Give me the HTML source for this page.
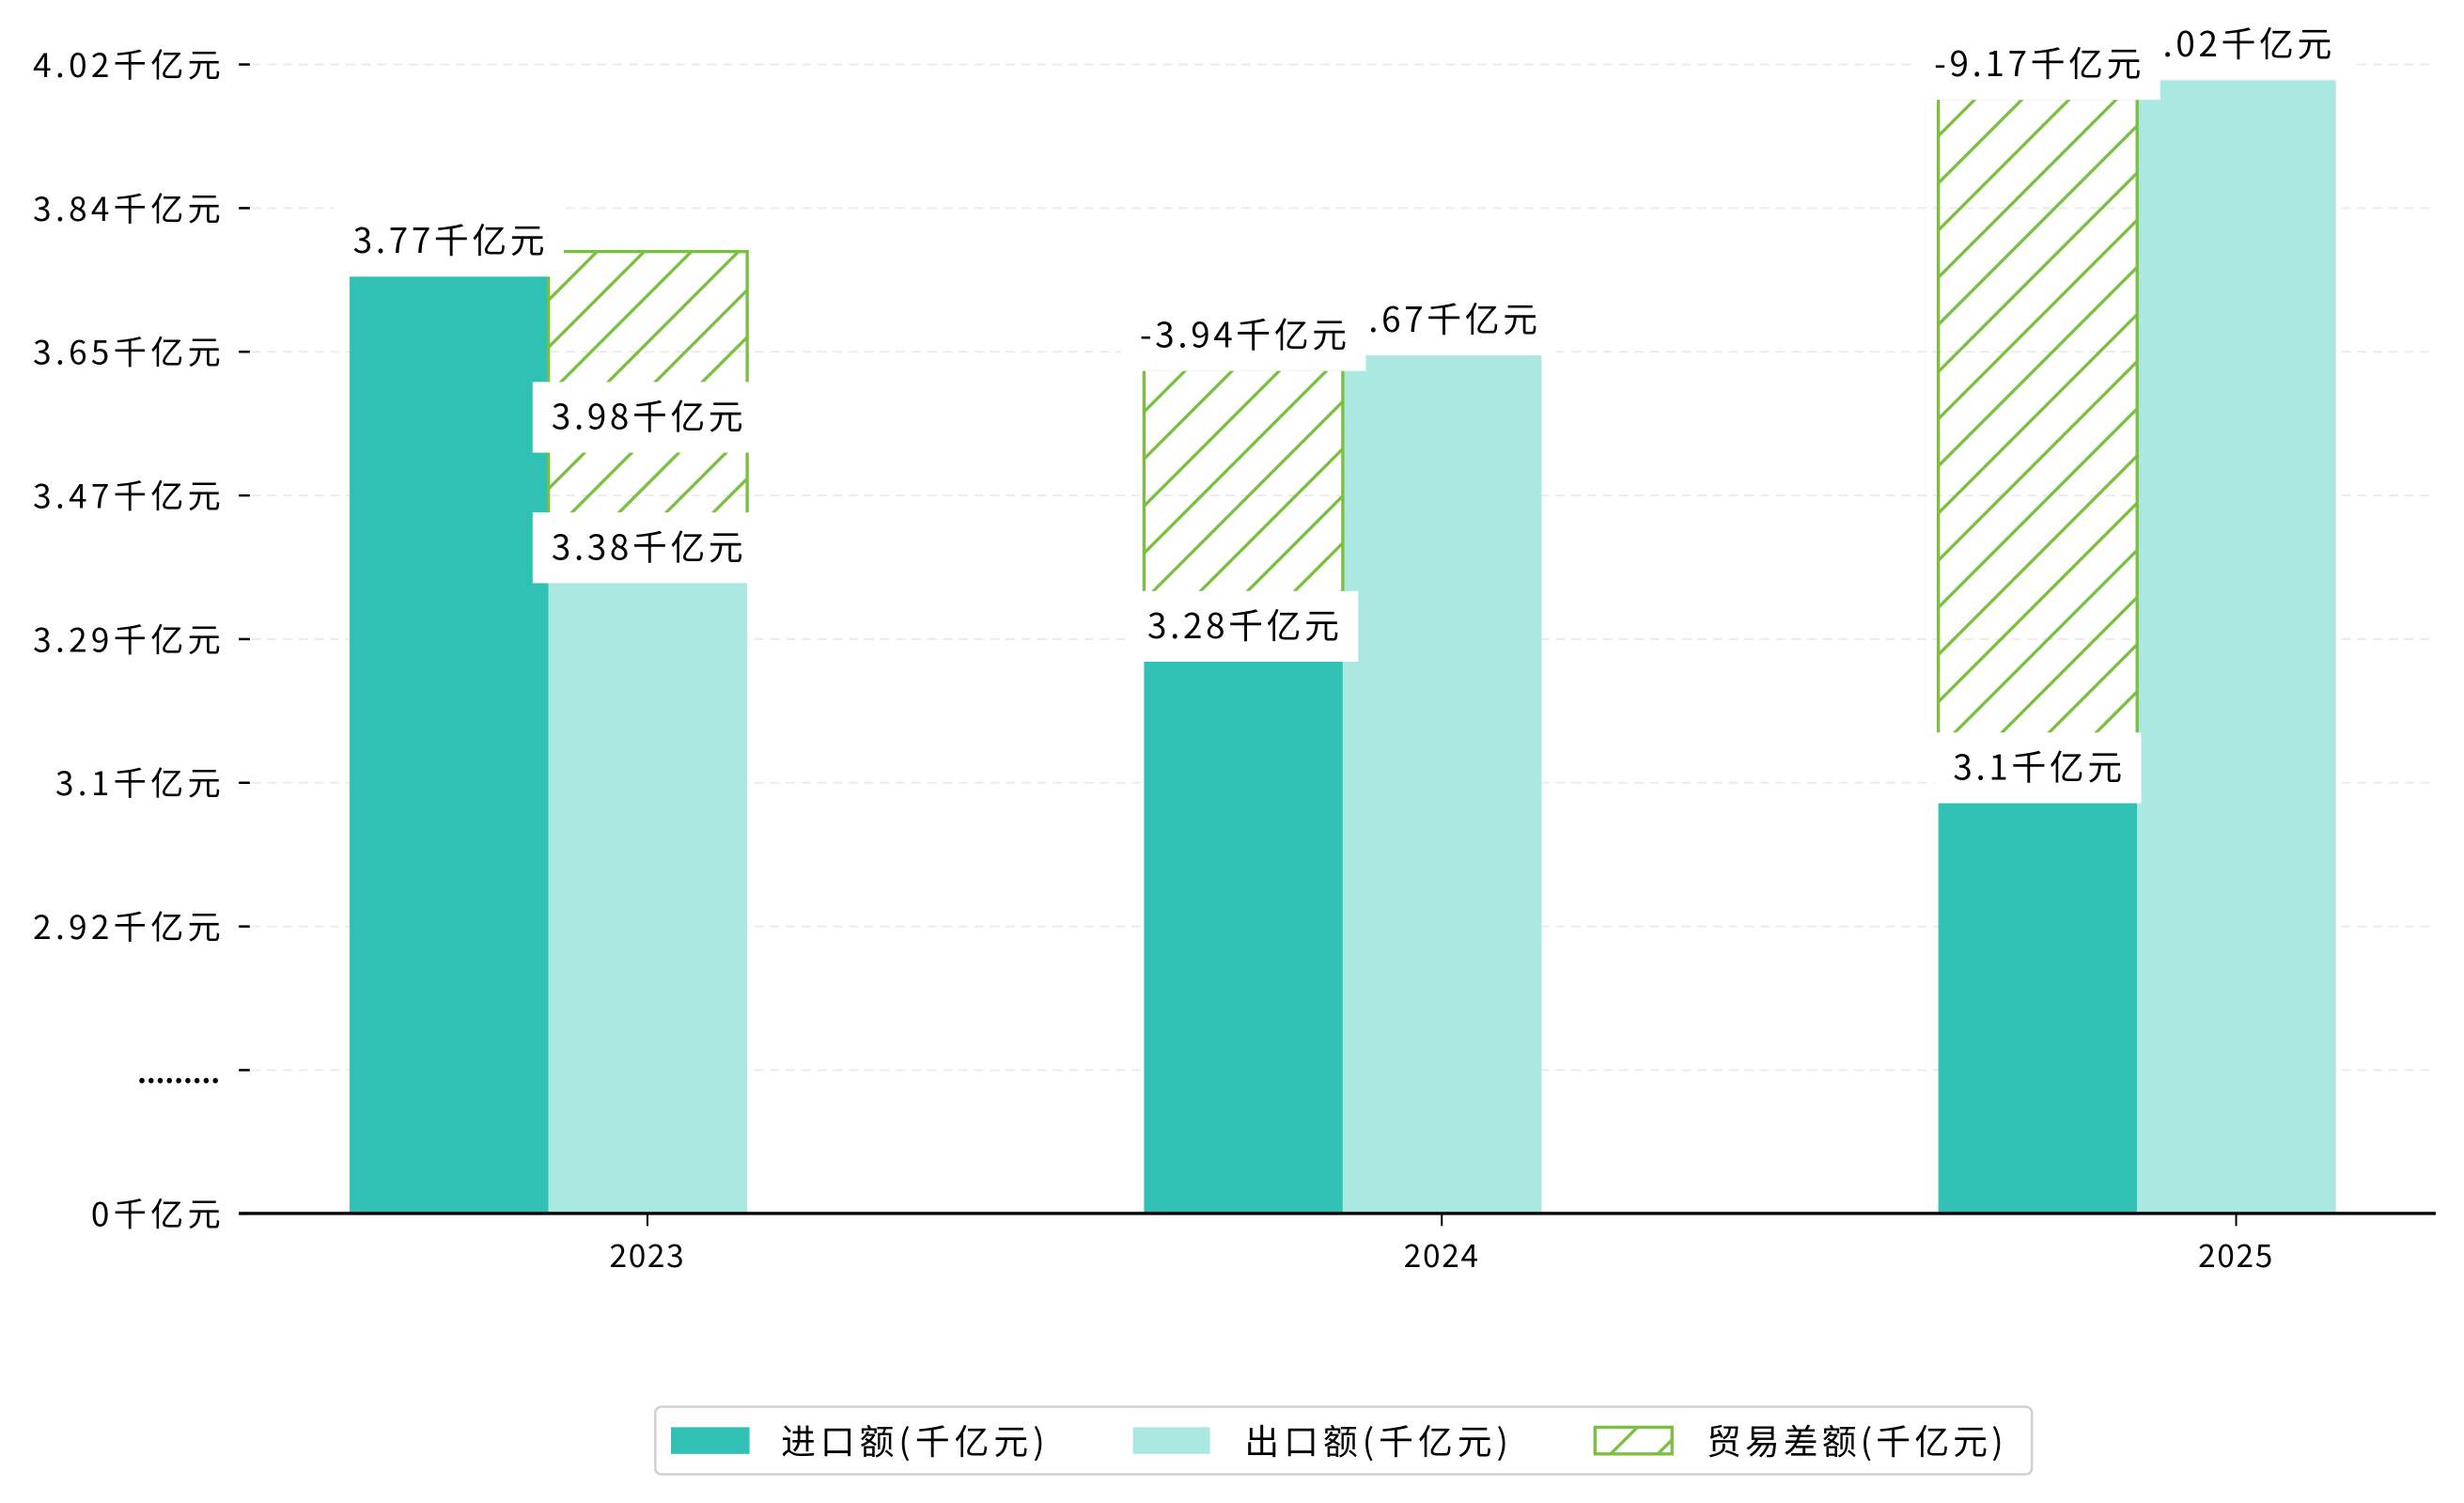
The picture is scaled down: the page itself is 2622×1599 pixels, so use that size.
<!DOCTYPE html>
<html><head><meta charset="utf-8">
<style>
html,body{margin:0;padding:0;background:#fff;}
svg{display:block;}
text{font-family:"WenQuanYi Zen Hei","Noto Sans CJK SC","Liberation Sans",sans-serif;fill:#000;}
</style></head>
<body>
<svg id="chart" width="2622" height="1599" viewBox="0 0 1568 956.2" xmlns="http://www.w3.org/2000/svg">
<defs>
<pattern id="hatch" patternUnits="userSpaceOnUse" width="30" height="30">
<path d="M0,30 L30,0 M-5,5 L5,-5 M25,35 L35,25" stroke="#7abf3f" stroke-width="2"/>
</pattern>
</defs>
<g id="grid"></g>
<g id="bars"></g>
<g id="labels"></g>
<g id="axes"></g>
<g id="legend">
<rect x="417" y="895" width="876" height="43" rx="4" fill="#fff" stroke="#d0d0d0" stroke-width="1.5"/>
<g>
<rect x="427" y="908" width="50" height="17" fill="#30c0b4"/>
<text x="497" y="925" font-size="22" letter-spacing="3">进口额(千亿元)</text></g>
<g>
<rect x="721" y="908" width="49" height="17" fill="#abe8e2"/>
<text x="792" y="925" font-size="22" letter-spacing="3">出口额(千亿元)</text></g>
<g>
<rect x="1015" y="908" width="49" height="17" fill="url(#hatch)" stroke="#7abf3f" stroke-width="2"/>
<text x="1086" y="925" font-size="22" letter-spacing="2.5">贸易差额(千亿元)</text></g>
</g>
</svg>
<script>
const categories = ["2023","2024","2025"];
const importVals = [3.77, 3.28, 3.1];
const exportVals = [3.38, 3.67, 4.02];
const balanceLabels = ["3.98", "-3.94", "-9.17"];
const balanceBase = [3.38, 3.28, 3.1];
const balanceTop = [3.80, 3.65, 3.995];
const balanceSlot = [1, 0, 0];
const balanceLabelMid = [true, false, false];
const yTickLabels = ["4.02千亿元","3.84千亿元","3.65千亿元","3.47千亿元","3.29千亿元","3.1千亿元","2.92千亿元","………","0千亿元"];

const NS = "http://www.w3.org/2000/svg";
const baseY = 772, left = 152, right = 1550;
function y(v){ return 175 + (3.77 - v) * 500; }
function xc(i){ return 412 + i * 505.5; }
const bw = 126.5;
function mk(tag, attrs, parent){ const e=document.createElementNS(NS,tag); for(const k in attrs) e.setAttribute(k,attrs[k]); parent.appendChild(e); return e; }
const grid=document.getElementById('grid'), bars=document.getElementById('bars'), labels=document.getElementById('labels'), axes=document.getElementById('axes');

yTickLabels.forEach((lab,i)=>{
  const ty = 41 + i*91.4;
  if(i<yTickLabels.length-1){
    const g=mk('line',{x1:160,x2:right,y1:ty,y2:ty,stroke:'#ececec','stroke-width':1.2,'stroke-dasharray':'6,4'},grid);
    
    
  }
  const t=mk('line',{x1:152,x2:159,y1:ty,y2:ty,stroke:'#000','stroke-width':1.5},axes);
  
  
  const isDots = lab==="………";
  const tx=mk('text',{x:isDots?140:143,y:ty+8,'font-size':isDots?18:21,'text-anchor':'end','letter-spacing':isDots?0:2.6},axes);
  tx.textContent = isDots ? "........." : lab;
  if(isDots) tx.setAttribute('font-weight','bold');
  
  
});

function addLabel(txt, cx, cy){
  const t=mk('text',{x:cx+1,y:cy+8,'font-size':22,'text-anchor':'middle','letter-spacing':2.2},labels);
  t.textContent=txt;
  const w=t.getComputedTextLength()+22;
  const r=mk('rect',{x:cx-w/2,y:cy-22,width:w,height:45,fill:'#fff'},labels);
  labels.insertBefore(r,t);
  
  
  
  
}

categories.forEach((c,i)=>{
  const cx=xc(i);
  const ix=cx-63-bw, ex=cx-63;
  const bi=mk('rect',{x:ix,y:y(importVals[i]),width:bw,height:baseY-y(importVals[i]),fill:'#30c0b4'},bars);
  
  
  const be=mk('rect',{x:ex,y:y(exportVals[i]),width:bw,height:baseY-y(exportVals[i]),fill:'#abe8e2'},bars);
  
  
  const hx = balanceSlot[i]===0 ? ix : ex;
  const hb=mk('rect',{x:hx,y:y(balanceTop[i]),width:bw,height:y(balanceBase[i])-y(balanceTop[i]),fill:'url(#hatch)',stroke:'#7abf3f','stroke-width':2},bars);
  
  
  const xt=mk('line',{x1:cx,x2:cx,y1:baseY,y2:baseY+8,stroke:'#000','stroke-width':1.2},axes);
  
  
  const xl=mk('text',{x:cx,y:806,'font-size':20,'text-anchor':'middle','letter-spacing':1},axes);
  xl.textContent=c;
  
  
});

categories.forEach((c,i)=>{
  const cx=xc(i);
  const ic=cx-63-bw/2, ec=cx;
  const hc = balanceSlot[i]===0 ? ic : ec;
  addLabel(exportVals[i]+"千亿元", ec, y(exportVals[i])-22);
  addLabel(importVals[i]+"千亿元", ic, y(importVals[i])-22);
  const hy = balanceLabelMid[i] ? (y(balanceTop[i])+y(balanceBase[i]))/2 : y(balanceTop[i])-22;
  addLabel(balanceLabels[i]+"千亿元", hc, hy);
});
const bl=mk('line',{x1:left,x2:right,y1:baseY,y2:baseY,stroke:'#000','stroke-width':2},axes);


</script>
</body></html>
